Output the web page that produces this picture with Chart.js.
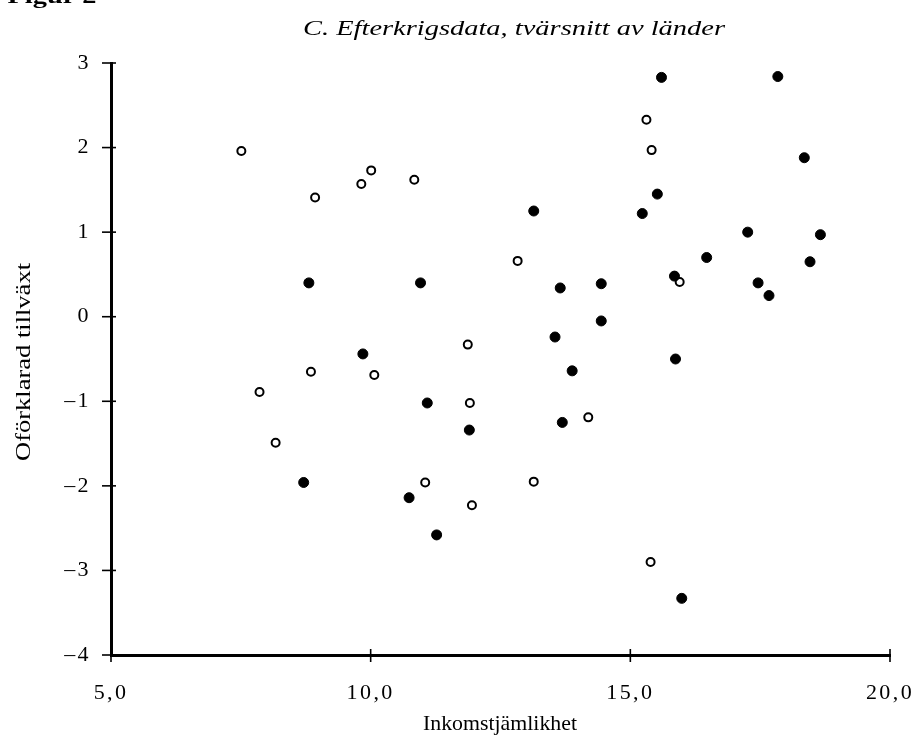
<!DOCTYPE html>
<html>
<head>
<meta charset="utf-8">
<script src="https://cdn.jsdelivr.net/npm/chart.js@4/dist/chart.umd.min.js"></script>
<style>
html,body{margin:0;padding:0;background:#fff;}
#wrap{width:917px;height:740px;position:relative;}
</style>
</head>
<body>
<div id="wrap"><canvas id="c" width="917" height="740"></canvas></div>
<script>
const chartTitle = "C. Efterkrigsdata, tvärsnitt av länder";
const figureLabel = "Figur 2";
const xTitle = "Inkomstjämlikhet";
const yTitle = "Oförklarad tillväxt";
const xTicks = [5, 10, 15, 20];
const yTicks = [-4, -3, -2, -1, 0, 1, 2, 3];

// Filled points (x: inkomstjämlikhet, y: oförklarad tillväxt)
const filledX = [8.81, 10.96, 9.85, 11.09, 11.90, 8.71, 10.74, 11.27, 15.60, 17.84, 18.35, 15.52, 13.14, 15.23, 17.26, 18.66, 16.47, 18.46, 13.65, 14.44, 15.85, 17.46, 17.67, 14.44, 13.55, 15.87, 13.88, 13.69, 15.99];
const filledY = [0.40, 0.40, -0.44, -1.02, -1.34, -1.96, -2.14, -2.58, 2.83, 2.84, 1.88, 1.45, 1.25, 1.22, 1.00, 0.97, 0.70, 0.65, 0.34, 0.39, 0.48, 0.40, 0.25, -0.05, -0.24, -0.50, -0.64, -1.25, -3.33];

// Open points
const openX = [7.51, 8.93, 9.82, 10.01, 10.84, 7.86, 8.17, 8.85, 10.07, 11.05, 11.87, 11.91, 11.95, 12.83, 13.14, 14.19, 15.31, 15.41, 15.95, 15.39];
const openY = [1.96, 1.41, 1.57, 1.73, 1.62, -0.89, -1.49, -0.65, -0.69, -1.96, -0.33, -1.02, -2.23, 0.66, -1.95, -1.19, 2.33, 1.97, 0.41, -2.90];

const toPts = (xs, ys) => xs.map((x, i) => ({x: x, y: ys[i]}));
const SERIF = "'Liberation Serif', 'DejaVu Serif', serif";

// draw text centred at (cx, cy), stretched horizontally to a target width
function stretchText(ctx, text, font, cx, cy, targetW, rot) {
  ctx.save();
  ctx.font = font;
  ctx.letterSpacing = '0px';
  const w = ctx.measureText(text).width;
  ctx.translate(cx, cy);
  if (rot) ctx.rotate(rot);
  ctx.scale(targetW / w, 1);
  ctx.textAlign = 'center';
  ctx.textBaseline = 'middle';
  ctx.fillStyle = '#000';
  ctx.fillText(text, 0, 0);
  ctx.restore();
}

const textDecor = {
  id: 'textDecor',
  beforeDraw(chart) {
    chart.ctx.letterSpacing = '2.4px';
  },
  afterDraw(chart) {
    const ctx = chart.ctx;
    ctx.letterSpacing = '0px';
    const xs = chart.scales.x, ys = chart.scales.y;
    const area = chart.chartArea;
    ctx.save();
    ctx.strokeStyle = '#000';
    ctx.lineWidth = 1.6;
    xTicks.forEach(v => {
      const px = xs.getPixelForValue(v);
      ctx.beginPath();
      ctx.moveTo(px, area.bottom - 6);
      ctx.lineTo(px, area.bottom + 7);
      ctx.stroke();
    });
    yTicks.forEach(v => {
      const py = ys.getPixelForValue(v);
      ctx.beginPath();
      ctx.moveTo(area.left - 9, py);
      ctx.lineTo(area.left + 5, py);
      ctx.stroke();
    });
    ctx.restore();
    stretchText(ctx, chartTitle, "italic 21px " + SERIF, 514, 29, 422, 0);
    stretchText(ctx, xTitle, "21px " + SERIF, 500, 724, 154, 0);
    stretchText(ctx, yTitle, "21px " + SERIF, 24, 362, 198, -Math.PI / 2);
    stretchText(ctx, figureLabel, "bold 22px " + SERIF, 52, -3, 89, 0);
  }
};

new Chart(document.getElementById('c'), {
  type: 'scatter',
  data: {
    datasets: [
      {
        label: 'filled',
        data: toPts(filledX, filledY),
        pointStyle: 'circle',
        pointRadius: 5,
        pointBackgroundColor: '#000',
        pointBorderColor: '#000',
        pointBorderWidth: 1
      },
      {
        label: 'open',
        data: toPts(openX, openY),
        pointStyle: 'circle',
        pointRadius: 4,
        pointBackgroundColor: '#fff',
        pointBorderColor: '#000',
        pointBorderWidth: 2
      }
    ]
  },
  options: {
    responsive: false,
    animation: false,
    devicePixelRatio: 1,
    layout: {padding: {left: 0, right: 27, top: 63, bottom: 0}},
    plugins: {
      legend: {display: false},
      tooltip: {enabled: false},
      title: {display: false}
    },
    scales: {
      x: {
        type: 'linear',
        min: 5, max: 20,
        afterBuildTicks: s => { s.ticks = xTicks.map(v => ({value: v})); },
        afterFit: s => { s.height = 85; s.paddingLeft = 0; s.paddingRight = 0; },
        border: {display: true, color: '#000', width: 3},
        grid: {display: false},
        ticks: {
          color: '#000',
          font: {family: SERIF, size: 22},
          padding: 17,
          maxRotation: 0,
          callback: v => v.toFixed(1).replace('.', ',')
        },
        title: {display: false}
      },
      y: {
        type: 'linear',
        min: -4, max: 3,
        afterBuildTicks: s => { s.ticks = yTicks.map(v => ({value: v})); },
        afterFit: s => { s.width = 111; s.paddingTop = 0; s.paddingBottom = 0; },
        border: {display: true, color: '#000', width: 3},
        grid: {display: false},
        ticks: {
          color: '#000',
          font: {family: SERIF, size: 22},
          padding: 12,
          callback: v => (v < 0 ? '\u2013' + Math.abs(v) : String(v))
        },
        title: {display: false}
      }
    }
  },
  plugins: [textDecor]
});
</script>
</body>
</html>
